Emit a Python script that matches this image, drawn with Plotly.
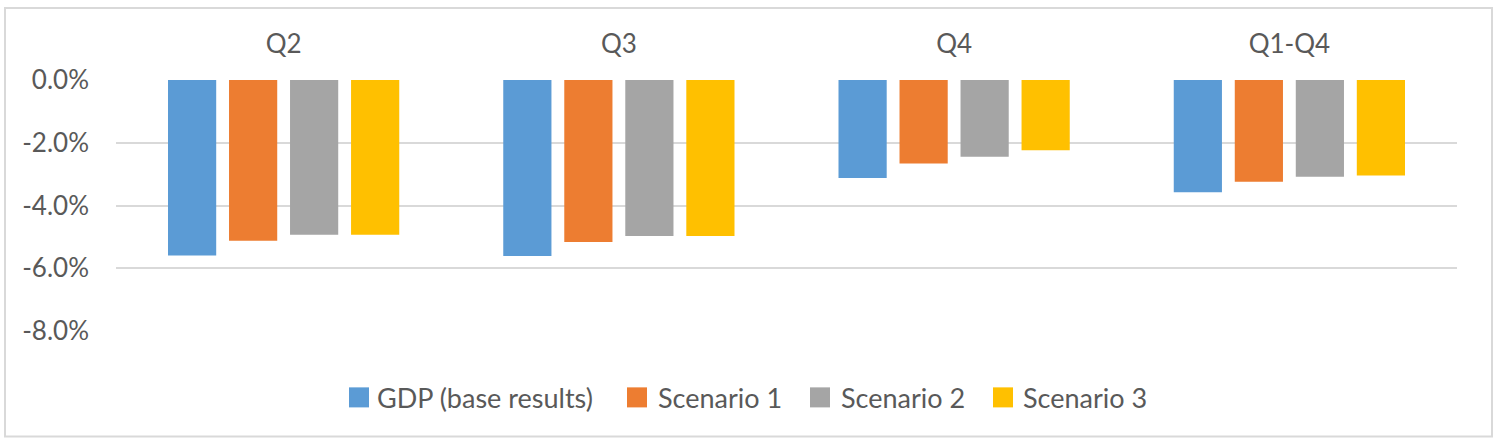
import plotly.graph_objects as go

categories = ["Q2", "Q3", "Q4", "Q1-Q4"]
series_names = ["GDP (base results)", "Scenario 1", "Scenario 2", "Scenario 3"]
gdp_base = [-0.0559, -0.0561, -0.0312, -0.0358]
scenario_1 = [-0.0512, -0.0516, -0.0266, -0.0324]
scenario_2 = [-0.0493, -0.0497, -0.0245, -0.0308]
scenario_3 = [-0.0493, -0.0497, -0.0224, -0.0304]
tick_vals = [0.0, -0.02, -0.04, -0.06, -0.08]
tick_text = ["0.0%", "-2.0%", "-4.0%", "-6.0%", "-8.0%"]

colors = ["#5B9BD5", "#ED7D31", "#A5A5A5", "#FFC000"]
series_values = [gdp_base, scenario_1, scenario_2, scenario_3]

FONT = "Lato"
TEXT_COLOR = "#595959"

# plot-area geometry (pixels)
L, R, T, B = 116, 1457, 80, 330.7
W, H = R - L, B - T


def px_x(px):
    return (px - L) / W


def px_y(py):
    return (B - py) / H


fig = go.Figure()
for name, vals, col in zip(series_names, series_values, colors):
    fig.add_trace(go.Bar(x=categories, y=vals, name=name, showlegend=False,
                         marker=dict(color=col, line=dict(width=0))))

fig.update_layout(
    width=1500, height=442,
    margin=dict(l=L, r=1500 - R, t=T, b=442 - B, autoexpand=False),
    paper_bgcolor="white", plot_bgcolor="white",
    barmode="group", bargap=0.272, bargroupgap=0.21,
    font=dict(family=FONT, color=TEXT_COLOR, size=26),
    showlegend=False,
    xaxis=dict(side="top", showgrid=False, zeroline=False, showline=False,
               ticks="", tickfont=dict(family=FONT, size=26, color=TEXT_COLOR),
               ticklabelstandoff=21),
    yaxis=dict(range=[-0.08, 0.0], tickvals=tick_vals, ticktext=tick_text,
               showgrid=True, gridcolor="#D9D9D9", gridwidth=1.8,
               zeroline=False, showline=False, ticks="",
               tickfont=dict(family=FONT, size=26, color=TEXT_COLOR),
               ticklabelstandoff=26),
)

# outer chart border
fig.add_shape(type="rect", xref="paper", yref="paper",
              x0=px_x(5), x1=px_x(1492), y0=px_y(436), y1=px_y(8),
              line=dict(color="#D9D9D9", width=2), fillcolor="rgba(0,0,0,0)",
              layer="below")

# legend (square swatches + labels)
legend_square_left = [349, 627, 810, 993]
legend_text_left = [375, 656, 839, 1021]
for name, col, sx, tx in zip(series_names, colors, legend_square_left, legend_text_left):
    fig.add_shape(type="rect", xref="paper", yref="paper",
                  x0=px_x(sx), x1=px_x(sx + 20), y0=px_y(407), y1=px_y(387),
                  line=dict(width=0), fillcolor=col)
    fig.add_annotation(xref="paper", yref="paper", x=px_x(tx), y=px_y(397),
                       xanchor="left", yanchor="middle", showarrow=False,
                       text=name, font=dict(family=FONT, size=27, color=TEXT_COLOR))

fig.write_html("out.html", config={"displayModeBar": False},
               post_script="document.body.style.margin='0';document.body.style.overflow='hidden';")
